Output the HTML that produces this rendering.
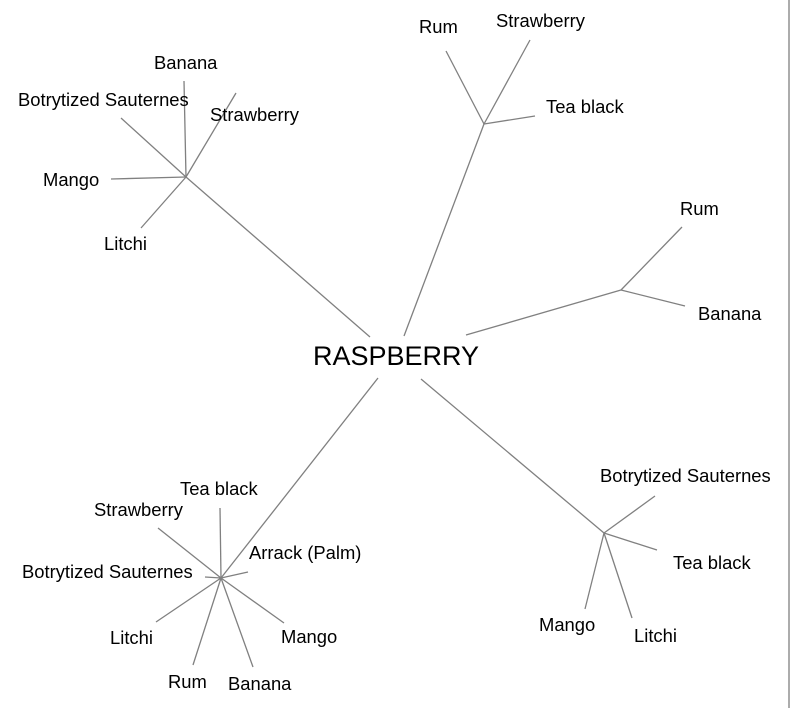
<!DOCTYPE html>
<html><head><style>html,body{margin:0;padding:0;background:#fff;}svg{display:block}</style></head>
<body>
<svg width="791" height="708" xmlns="http://www.w3.org/2000/svg" font-family="Liberation Sans, Arial, sans-serif" font-size="18.4" fill="#000">
<g stroke="#808080" stroke-width="1.3" fill="none">
<line x1="789" y1="0" x2="789" y2="708"/>
<line x1="221" y1="578" x2="378" y2="378"/>
<line x1="221" y1="578" x2="220" y2="508"/>
<line x1="221" y1="578" x2="158" y2="528"/>
<line x1="221" y1="578" x2="205" y2="577"/>
<line x1="221" y1="578" x2="248" y2="572"/>
<line x1="221" y1="578" x2="156" y2="622"/>
<line x1="221" y1="578" x2="193" y2="665"/>
<line x1="221" y1="578" x2="253" y2="667"/>
<line x1="221" y1="578" x2="284" y2="623"/>
<line x1="186" y1="177" x2="370" y2="337"/>
<line x1="186" y1="177" x2="184" y2="81"/>
<line x1="186" y1="177" x2="121" y2="118"/>
<line x1="186" y1="177" x2="236" y2="93"/>
<line x1="186" y1="177" x2="111" y2="179"/>
<line x1="186" y1="177" x2="141" y2="228"/>
<line x1="484" y1="124" x2="404" y2="336"/>
<line x1="484" y1="124" x2="446" y2="51"/>
<line x1="484" y1="124" x2="530" y2="40"/>
<line x1="484" y1="124" x2="535" y2="116"/>
<line x1="621" y1="290" x2="466" y2="335"/>
<line x1="621" y1="290" x2="682" y2="227"/>
<line x1="621" y1="290" x2="685" y2="306"/>
<line x1="604" y1="533" x2="421" y2="379"/>
<line x1="604" y1="533" x2="655" y2="496"/>
<line x1="604" y1="533" x2="657" y2="550"/>
<line x1="604" y1="533" x2="585" y2="609"/>
<line x1="604" y1="533" x2="632" y2="618"/>
</g>
<text x="313" y="365" font-size="27">RASPBERRY</text>
<text x="419" y="33">Rum</text>
<text x="496" y="27">Strawberry</text>
<text x="546" y="113">Tea black</text>
<text x="680" y="215">Rum</text>
<text x="698" y="320">Banana</text>
<text x="154" y="69">Banana</text>
<text x="18" y="106">Botrytized Sauternes</text>
<text x="210" y="121">Strawberry</text>
<text x="43" y="186">Mango</text>
<text x="104" y="250">Litchi</text>
<text x="180" y="495">Tea black</text>
<text x="94" y="516">Strawberry</text>
<text x="249" y="559">Arrack (Palm)</text>
<text x="22" y="578">Botrytized Sauternes</text>
<text x="110" y="644">Litchi</text>
<text x="281" y="643">Mango</text>
<text x="168" y="688">Rum</text>
<text x="228" y="690">Banana</text>
<text x="600" y="482">Botrytized Sauternes</text>
<text x="673" y="569">Tea black</text>
<text x="539" y="631">Mango</text>
<text x="634" y="642">Litchi</text>
</svg>
</body></html>
